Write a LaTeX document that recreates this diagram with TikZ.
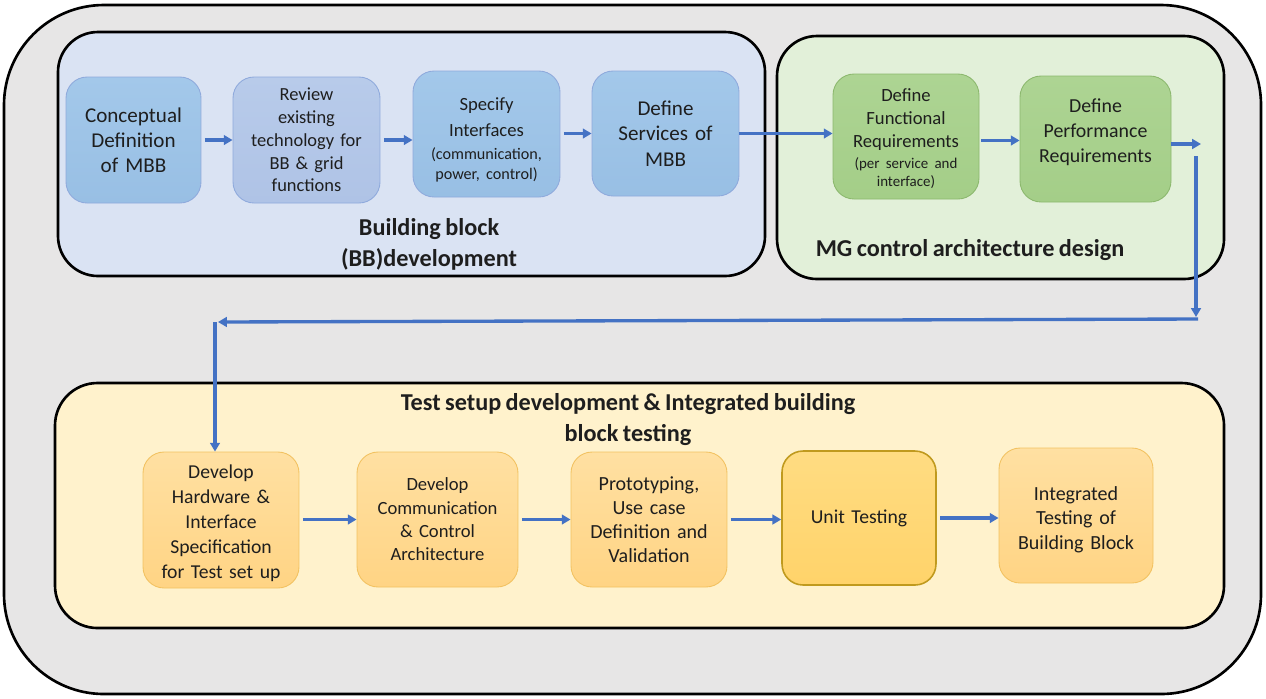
\documentclass[tikz,border=0pt]{standalone}
\usepackage{fontspec}
\setmainfont{Carlito}[WordSpace=0.8]
\usetikzlibrary{arrows.meta,calc}

\definecolor{outerfill}{HTML}{E7E6E6}
\definecolor{bbfill}{HTML}{DAE3F3}
\definecolor{mgfill}{HTML}{E2F0D9}
\definecolor{tsfill}{HTML}{FFF2CC}
\definecolor{bluetop}{HTML}{A3C8EA}
\definecolor{bluebot}{HTML}{98BFE4}
\definecolor{lavtop}{HTML}{B8CBEA}
\definecolor{lavbot}{HTML}{AFC3E6}
\definecolor{blueline}{HTML}{8FAADC}
\definecolor{greentop}{HTML}{ADD493}
\definecolor{greenbot}{HTML}{A4CE88}
\definecolor{greenline}{HTML}{8CB86E}
\definecolor{yellowtop}{HTML}{FFE0A2}
\definecolor{yellowbot}{HTML}{FFD484}
\definecolor{yellowline}{HTML}{F2C261}
\definecolor{unittop}{HTML}{FFDC82}
\definecolor{unitbot}{HTML}{FFD36A}
\definecolor{unitline}{HTML}{C09A1E}
\definecolor{flowblue}{HTML}{4472C4}
\definecolor{ink}{HTML}{1E1E1E}

\tikzset{
  frame/.style={draw=black, line width=1.5pt},
  stepbox/.style={rounded corners=0.42cm, inner sep=0pt, align=center,
    text=ink, line width=0.5pt, execute at begin node=\frenchspacing},
  bluestep/.style={stepbox, top color=bluetop, bottom color=bluebot, draw=blueline},
  lavstep/.style={stepbox, top color=lavtop, bottom color=lavbot, draw=blueline},
  greenstep/.style={stepbox, top color=greentop, bottom color=greenbot, draw=greenline},
  yellowstep/.style={stepbox, top color=yellowtop, bottom color=yellowbot, draw=yellowline},
  unitstep/.style={stepbox, top color=unittop, bottom color=unitbot, draw=unitline, line width=0.9pt},
  title/.style={align=center, text=ink, font=\bfseries\fontsize{13.8}{17.6}\selectfont},
  flow/.style={draw=flowblue, line width=1.9pt,
    -{Triangle[length=5pt,width=5.5pt]}},
}

\begin{document}
\begin{tikzpicture}[x=0.02cm, y=-0.02cm]
\useasboundingbox (0,0) rectangle (1266,698);

% outer frame and the three stage containers
\draw[frame, fill=outerfill, rounded corners=2cm] (4,5) rectangle (1261,694);
\draw[frame, fill=bbfill, rounded corners=0.8cm] (58,32) rectangle (765,276);
\draw[frame, fill=mgfill, rounded corners=0.8cm] (777,36) rectangle (1224,279);
\draw[frame, fill=tsfill, rounded corners=0.85cm] (55,383) rectangle (1224,628);

% building block development
\node[bluestep, minimum width=2.70cm, minimum height=2.52cm, text width=2.5cm,
      font=\fontsize{12}{14.3}\selectfont] (b1) at (133.5,140)
  {Conceptual\\Definition\\of MBB};
\node[lavstep, minimum width=2.94cm, minimum height=2.52cm, text width=2.8cm,
      font=\fontsize{10.5}{13}\selectfont] (b2) at (306.5,140)
  {Review\\existing\\technology for\\BB \& grid\\functions};
\node[bluestep, minimum width=2.94cm, minimum height=2.52cm, text width=2.8cm,
      font=\fontsize{10.6}{14.7}\selectfont] (b3) at (486.5,134)
  {\rule{0pt}{13.6pt}Specify\\Interfaces\par\vspace{1.8pt}
   {\fontsize{9.2}{11.3}\selectfont (communication,\\power, control)\par}};
\node[bluestep, minimum width=2.94cm, minimum height=2.50cm, text width=2.8cm,
      font=\fontsize{12}{14.4}\selectfont] (b4) at (665.5,133.5)
  {Define\\Services of\\MBB};

% control architecture design
\node[greenstep, minimum width=2.92cm, minimum height=2.50cm, text width=2.8cm,
      font=\fontsize{10.6}{13.1}\selectfont] (g1) at (906,136.5)
  {\rule{0pt}{10pt}Define\\Functional\\Requirements\par\vspace{1.6pt}
   {\fontsize{8.5}{10.2}\selectfont (per service and\\interface)\par}};
\node[greenstep, minimum width=3.02cm, minimum height=2.52cm, text width=2.9cm,
      font=\fontsize{11.3}{14.1}\selectfont] (g2) at (1095.5,139)
  {Define\\Performance\\Requirements\par\vspace{8pt}};

% test setup development and integrated testing
\node[yellowstep, minimum width=3.12cm, minimum height=2.72cm, text width=3.0cm,
      font=\fontsize{11.2}{14.2}\selectfont] (y1) at (221,520)
  {\rule{0pt}{11.8pt}Develop\\Hardware \&\\Interface\\Specification\\for Test set up};
\node[yellowstep, minimum width=3.22cm, minimum height=2.70cm, text width=3.1cm,
      font=\fontsize{10.6}{13.3}\selectfont] (y2) at (437.5,519.5)
  {Develop\\Communication\\\& Control\\Architecture};
\node[yellowstep, minimum width=3.12cm, minimum height=2.70cm, text width=3.0cm,
      font=\fontsize{11.4}{13.7}\selectfont] (y3) at (649,519.5)
  {Prototyping,\\Use case\\Definition and\\Validation};
\node[unitstep, minimum width=3.08cm, minimum height=2.68cm, text width=2.9cm,
      font=\fontsize{11.2}{13.7}\selectfont] (y4) at (859,518)
  {Unit Testing};
\node[yellowstep, minimum width=3.08cm, minimum height=2.70cm, text width=2.9cm,
      font=\fontsize{11.4}{13.9}\selectfont] (y5) at (1076,515.5)
  {\rule{0pt}{12.5pt}Integrated\\Testing of\\Building Block};

% stage titles
\node[title] (tbb) at (429,244.5) {Building block\\(BB)development};
\node[title] (tmg) at (970,250) {MG control architecture design};
\node[title] (tts) at (628,419.5) {Test setup development \& Integrated building\\block testing};

% flow inside the first two stages
\draw[flow, shorten <=2pt] (b1.east) -- (b2.west);
\draw[flow, shorten <=2pt] (b2.east) -- (b2.east -| b3.west);
\draw[flow, shorten <=2pt] (b3.east |- b4.east) -- (b4.west);
\draw[flow] (b4.east) -- (b4.east -| g1.west);
\coordinate (gm) at ($(g1.east)+(0,4)$);
\draw[flow, shorten <=1pt] (gm) -- (gm -| g2.west);

% loop back to the test stage
\coordinate (o1) at (1201,144);
\coordinate (v1) at (1196,156);
\coordinate (v2) at (1196,317);
\coordinate (h1) at (1198,319);
\coordinate (h2) at (218,322);
\coordinate (d1) at (215,322);
\draw[flow] (g2.east |- o1) -- (o1);
\draw[flow] (v1) -- (v2);
\draw[flow] (h1) -- (h2);
\draw[flow] (d1) -- (d1 |- y1.north);

% flow inside the test stage
\draw[flow, shorten <=2pt] (y1.east |- y2.east) -- (y2.west);
\draw[flow, shorten <=2pt] (y2.east) -- (y3.west);
\draw[flow, shorten <=2pt] (y3.east) -- (y3.east -| y4.west);
\draw[flow, shorten <=2pt] (y4.east) -- (y4.east -| y5.west);
\end{tikzpicture}
\end{document}
